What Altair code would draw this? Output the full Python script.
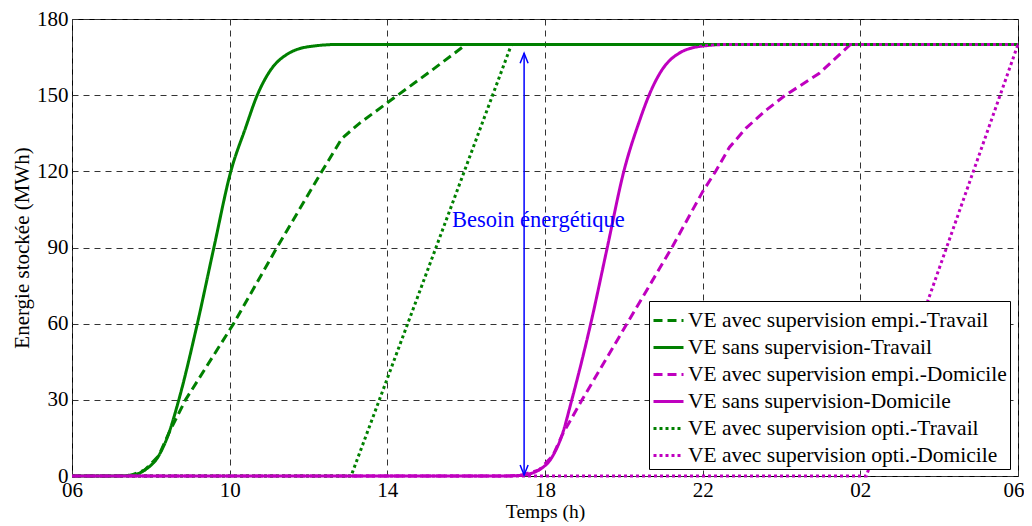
import altair as alt
import pandas as pd

FONT = "Liberation Serif"

series_names = [
    "VE avec supervision empi.-Travail",
    "VE sans supervision-Travail",
    "VE avec supervision empi.-Domicile",
    "VE sans supervision-Domicile",
    "VE avec supervision opti.-Travail",
    "VE avec supervision opti.-Domicile",
]
series_colors = ["#008000", "#008000", "#bf00bf", "#bf00bf", "#008000", "#bf00bf"]
series_dash = [[9, 5], [1, 0], [9, 5], [1, 0], [3, 3], [3, 3]]
series_interp = ["linear", "monotone", "linear", "monotone", "linear", "linear"]

# hours (6 -> 30 = 06h next day) and stored energy (MWh)
h_empi_travail = [6, 7.0, 7.5, 7.85, 8.2, 8.46, 8.88, 10.1, 11.2, 12.34, 12.85, 13.3, 14.0, 15.06, 16.0, 30]
v_empi_travail = [0, 0, 0.3, 2.4, 8, 17, 30, 60, 90, 120, 133, 139, 147, 159, 170, 170]

h_sans_travail = [6, 7.0, 7.5, 7.85, 8.2, 8.46, 8.71, 9.18, 9.6, 10.03, 10.4, 10.7, 11.0, 11.5, 12.1, 12.8, 30]
v_sans_travail = [0, 0, 0.3, 2.4, 8, 17, 30, 60, 90, 120, 137, 150, 159, 166.5, 169.3, 170, 170]

h_empi_domicile = [6, 17.0, 17.4, 17.85, 18.2, 18.43, 18.94, 20.08, 21.22, 22.0, 22.33, 22.68, 23.1, 23.6, 24.1, 24.96, 25.75, 30]
v_empi_domicile = [0, 0, 0.3, 2.4, 8, 16, 30, 60, 90, 112, 120, 129.5, 137, 144, 150, 158.6, 170, 170]

h_sans_domicile = [6, 17.0, 17.4, 17.85, 18.2, 18.43, 18.68, 19.16, 19.58, 20.0, 20.4, 20.64, 20.97, 21.4, 21.98, 22.7, 30]
v_sans_domicile = [0, 0, 0.3, 2.4, 8, 16, 30, 60, 90, 120, 140, 150, 160, 166.5, 169.3, 170, 170]

h_opti_travail = [6, 13.08, 17.15, 30]
v_opti_travail = [0, 0, 170, 170]

h_opti_domicile = [6, 26.15, 30]
v_opti_domicile = [0, 0, 170]

x_ticks = [6, 10, 14, 18, 22, 26, 30]
y_ticks = [0, 30, 60, 90, 120, 150, 180]

arrow_x = [17.47]
arrow_bottom = [0.4]
arrow_top = [166.5]
annot_text = ["Besoin énergétique"]
annot_x = [15.64]
annot_y = [101]

all_h = [h_empi_travail, h_sans_travail, h_empi_domicile, h_sans_domicile, h_opti_travail, h_opti_domicile]
all_v = [v_empi_travail, v_sans_travail, v_empi_domicile, v_sans_domicile, v_opti_travail, v_opti_domicile]

rows = []
for name, hs, vs in zip(series_names, all_h, all_v):
    for h, v in zip(hs, vs):
        rows.append({"serie": name, "h": h, "e": v})
df = pd.DataFrame(rows)

xscale = alt.Scale(domain=[6, 30], nice=False, zero=False)
yscale = alt.Scale(domain=[0, 180], nice=False)

legend = alt.Legend(title=None, orient="none", legendX=577, legendY=282)
color = alt.Color("serie:N", scale=alt.Scale(domain=series_names, range=series_colors), legend=legend)
dash = alt.StrokeDash("serie:N", scale=alt.Scale(domain=series_names, range=series_dash), legend=legend)

xenc = alt.X("h:Q", scale=xscale, title="Temps (h)",
             axis=alt.Axis(values=x_ticks,
                           labelExpr="(datum.value % 24 < 10 ? '0' : '') + (datum.value % 24)",
                           labelAlign=alt.ExprRef(expr="datum.value == 30 ? 'right' : 'center'"),
                           labelOffset=alt.ExprRef(expr="datum.value == 30 ? 6 : 0")))
yenc = alt.Y("e:Q", scale=yscale, title="Energie stockée (MWh)", axis=alt.Axis(values=y_ticks))

layers = []
for name, interp in zip(series_names, series_interp):
    layers.append(
        alt.Chart(df).transform_filter(alt.datum.serie == name)
        .mark_line(interpolate=interp, strokeWidth=3, strokeCap="butt")
        .encode(x=xenc, y=yenc, color=color, strokeDash=dash)
    )

adf = pd.DataFrame({"x": arrow_x, "y0": arrow_bottom, "y1": arrow_top})
arrow_line = alt.Chart(adf).mark_rule(color="#0000ff", strokeWidth=1.5).encode(
    x=alt.X("x:Q", scale=xscale), y=alt.Y("y0:Q", scale=yscale), y2="y1:Q")
head_up = alt.Chart(adf).mark_point(
    shape="M-0.8,2L0,0L0.8,2", filled=False, color="#0000ff", strokeWidth=1.5, size=100, opacity=1
).encode(x=alt.X("x:Q", scale=xscale), y=alt.Y("y1:Q", scale=yscale))
head_down = alt.Chart(adf).mark_point(
    shape="M-0.8,-2L0,0L0.8,-2", filled=False, color="#0000ff", strokeWidth=1.5, size=100, opacity=1
).encode(x=alt.X("x:Q", scale=xscale), y=alt.Y("y0:Q", scale=yscale))

tdf = pd.DataFrame({"x": annot_x, "y": annot_y, "t": annot_text})
annot = alt.Chart(tdf).mark_text(
    align="left", baseline="middle", font=FONT, fontSize=22.5, color="#0000ff"
).encode(x=alt.X("x:Q", scale=xscale), y=alt.Y("y:Q", scale=yscale), text="t:N")

chart = alt.layer(*layers, arrow_line, head_up, head_down, annot).properties(
    width=946, height=457,
    autosize=alt.AutoSizeParams(type="none"),
    padding={"left": 64, "top": 11, "right": 6, "bottom": 46},
).configure_view(
    stroke="black", strokeWidth=1
).configure_axis(
    labelFont=FONT, titleFont=FONT, labelFontSize=21, titleFontSize=21,
    labelColor="black", titleColor="black", titleFontWeight="normal",
    grid=True, gridColor="#333333", gridDash=[6, 5], gridWidth=1, gridOpacity=1,
    domain=False, ticks=False, labelPadding=4,
).configure_axisY(
    titlePadding=4
).configure_axisX(
    titlePadding=2, labelPadding=3, titleFontSize=19.5
).configure_legend(
    symbolType="stroke", symbolSize=900, symbolStrokeWidth=3,
    labelFont=FONT, labelFontSize=21.5, labelLimit=500, labelOffset=3,
    labelColor="black", rowPadding=-3.5, padding=3,
    fillColor="white", strokeColor="black", cornerRadius=0,
)

chart.save("out.html", embed_options={"renderer": "svg", "actions": False})
